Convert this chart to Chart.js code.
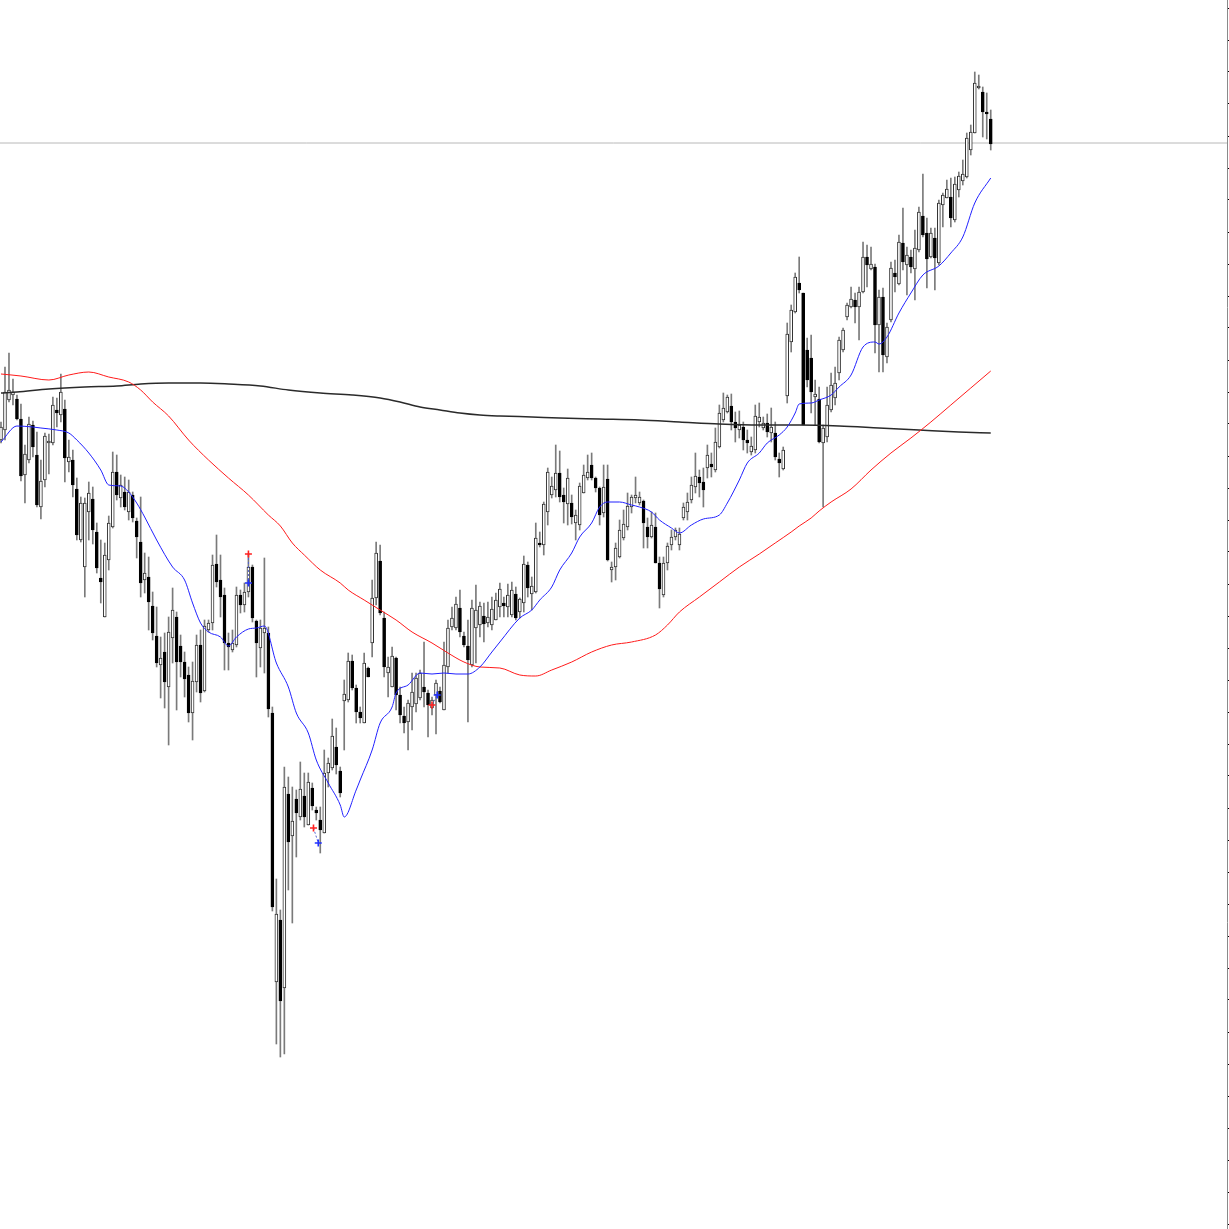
<!DOCTYPE html>
<html><head><meta charset="utf-8">
<script src="https://cdn.jsdelivr.net/npm/chart.js@4/dist/chart.umd.min.js"></script>
<style>html,body{margin:0;padding:0;background:#fff;overflow:hidden}#wrap{width:1229px;height:1229px;position:relative}</style>
</head><body><div id="wrap"><canvas id="c"></canvas></div>
<script>
const opens = [
789,799,829,834,830,810,754,769,804,774,
722,749,786,786,819,814,820,767,769,740,
689,662,717,730,697,651,612,669,702,757,
731,737,717,734,708,687,649,652,623,593,
564,577,542,591,612,583,567,554,516,547,
584,538,599,606,665,649,634,586,579,584,
634,624,637,662,608,581,596,596,516,247,
309,241,435,393,430,412,433,404,441,419,
409,396,456,461,482,458,528,529,568,541,
517,506,561,586,631,668,611,556,542,571,
534,513,507,522,525,531,542,536,521,534,
538,519,562,602,601,621,593,583,564,601,
604,613,606,604,609,622,626,622,614,635,
617,626,664,635,637,686,684,717,734,739,
756,734,725,726,706,704,736,751,764,751,
741,716,750,659,662,672,691,702,722,731,
726,728,702,692,702,666,634,666,684,692,
684,711,717,729,742,752,747,761,765,759,
782,809,817,823,807,799,802,789,777,779,
807,801,806,796,796,770,760,833,887,917,
946,936,879,871,832,830,786,792,819,831,
856,879,912,922,929,922,937,972,960,962,
904,932,872,909,956,945,986,964,972,960,
979,1013,996,972,991,966,1024,1031,1032,1009,
1039,1048,1052,1079,1096,1141,1137,1117,1110];
const highs = [
807,862,876,850,834,825,784,812,808,797,
769,796,795,832,831,855,829,789,779,751,
732,731,747,742,706,689,686,713,777,774,
754,752,749,737,711,732,676,672,637,622,
592,596,612,641,617,594,577,562,567,594,
599,609,609,674,694,674,641,596,599,642,
639,646,675,664,609,609,671,602,522,350,
319,462,452,442,439,467,456,456,446,422,
422,479,471,510,501,462,549,576,574,544,
522,576,562,649,687,684,617,572,582,572,
542,522,529,556,556,559,587,539,532,549,
542,587,609,622,632,639,597,609,629,644,
627,626,627,632,636,646,632,645,647,642,
631,673,667,652,706,697,727,761,752,784,
778,741,760,734,719,746,764,774,776,752,
742,764,764,667,686,709,719,736,734,752,
737,729,711,717,716,672,672,686,699,701,
701,726,736,752,776,759,761,784,776,801,
824,836,834,835,817,818,807,799,792,824,
826,812,815,821,807,776,782,906,924,956,
972,936,891,894,849,842,804,842,856,862,
892,901,926,942,936,942,987,984,982,965,
939,941,906,967,969,994,1021,982,979,999,
1022,1055,1011,1001,1001,1029,1036,1049,1051,1052,
1057,1069,1096,1104,1157,1154,1142,1136,1119];
const lows = [
786,789,827,824,809,748,726,766,772,722,
710,742,755,784,802,807,747,757,732,689,
687,632,689,685,656,626,612,659,701,729,
722,719,709,707,671,632,636,599,589,562,
531,521,484,566,519,552,532,507,489,537,
527,537,597,599,642,612,559,559,577,582,
616,617,632,607,552,562,556,512,318,185,
172,175,339,306,372,409,402,404,419,409,
376,396,442,459,455,432,479,527,539,506,
506,506,552,572,624,614,552,532,542,519,
506,496,479,499,517,529,522,492,514,495,
526,519,556,599,599,592,582,507,562,566,
592,587,602,599,609,612,612,612,612,609,
611,617,632,619,636,682,674,704,731,732,
727,706,704,705,689,699,736,749,749,737,
704,712,668,647,649,671,689,699,716,726,
724,681,681,691,666,621,632,659,679,689,
679,709,709,726,736,732,722,751,752,757,
781,807,816,799,787,791,779,776,774,776,
802,799,792,787,769,752,759,826,877,916,
936,804,842,816,804,786,722,787,817,824,
849,877,909,921,906,889,936,942,959,876,
857,857,866,907,937,944,959,934,956,929,
977,992,941,971,939,964,1002,1031,1002,1007,
1032,1044,1051,1074,1096,1140,1092,1090,1079];
const closes = [
802,837,839,837,810,753,775,805,782,724,
748,793,788,824,816,837,771,772,744,694,
726,726,736,699,661,647,674,706,757,734,
744,722,737,711,692,646,656,627,596,566,
571,547,597,619,567,567,550,516,548,584,
536,603,606,664,647,632,586,582,586,634,
624,637,662,611,586,601,601,520,322,315,
228,442,387,408,416,440,412,447,423,416,
399,456,466,493,464,436,535,568,541,517,
511,566,552,631,676,616,562,562,573,534,
514,506,526,537,551,556,537,524,529,546,
527,564,601,611,625,597,584,569,621,619,
623,605,612,620,629,640,623,634,639,611,
630,665,641,643,691,684,725,757,743,756,
732,727,751,712,714,743,754,757,751,741,
714,742,669,662,681,699,705,723,732,734,
732,706,692,704,666,640,666,683,692,699,
695,722,727,744,753,746,739,774,762,787,
816,821,832,807,801,804,789,786,783,813,
812,806,797,802,772,766,779,895,919,952,
939,804,849,837,835,787,801,824,844,846,
889,899,924,930,922,937,972,964,965,904,
932,874,902,961,952,987,967,974,962,981,
1017,994,970,996,971,1026,1034,1040,1011,1045,
1053,1055,1091,1097,1146,1143,1117,1115,1085];

// moving averages (bar index, value)
const blueIdx = [0,4,8,10,14,17,19,22,25,27,30,32,34,36,39,43,46,48,50,52,55,57,59,62,64,66,69,72,74,77,79,82,85,86,89,90,93,95,98,99,102,105,108,111,114,117,120,123,125,130,133,135,138,140,143,145,148,150,152,155,158,160,163,165,168,170,173,176,180,182,185,187,190,192,195,197,199,200,203,205,208,210,213,216,219,220,222,225,228,231,235,238,241,244,248];
const blueVal = [787,803,802,801,799,796,789,776,759,744,743,737,726,712,689,662,649,626,606,597,592,583,592,600,601,603,566,542,516,496,469,446,424,412,439,449,479,506,522,536,544,556,555,556,555,555,562,577,587,611,619,629,642,659,676,692,706,722,727,727,724,722,717,709,701,696,704,710,714,726,749,766,776,786,794,802,816,825,826,829,834,842,854,882,887,885,892,916,936,954,963,976,992,1026,1051];
const redIdx = [0,5,12,17,22,27,32,35,38,42,47,52,57,62,67,70,73,76,80,85,87,91,95,99,103,108,112,116,120,125,130,134,138,143,148,153,158,164,167,170,175,180,185,190,194,198,200,203,205,208,213,218,223,228,233,238,243,248];
const redVal = [855,853,849,854,857,852,847,839,827,813,789,769,751,734,714,703,686,674,659,646,639,629,619,609,597,586,576,567,562,561,554,553,559,567,577,584,587,594,604,617,632,647,662,675,686,697,703,711,718,727,740,759,776,791,807,824,841,858];
const blackIdx = [0,4,12,21,29,35,42,50,57,65,72,80,88,95,100,105,110,115,120,125,133,140,150,160,170,180,190,200,210,220,230,240,248];
const blackVal = [836,837,840,842,843,845,846,846,845,843,839,836,834,831,827,822,819,816,814,813,812,811,810,809,807,805,804,804,803,801,799,797,796];

// current price line and trade markers
const priceLine = 1086;
const tradeOpenIdx = [62, 78.3, 108];
const tradeOpenVal = [675, 401, 524];
const tradeCloseIdx = [62, 79.5, 109.3];
const tradeCloseVal = [646, 386, 534];

// price axis tick values (labels are outside the picture)
const yTicks = [5,37,69,101,133,165,197,229,261,293,325,357,389,421,453,485,517,549,581,613,645,677,709,741,773,805,837,869,901,933,965,997,1029,1061,1093,1125,1157,1189,1221];

const xMin = -0.25, xMax = 307.2;

const pts = (ix, vals) => ix.map((x, i) => ({x: x, y: vals[i]}));
const tradeLines = [];
tradeOpenIdx.forEach((x, i) => {
  tradeLines.push({x: x, y: tradeOpenVal[i]});
  tradeLines.push({x: tradeCloseIdx[i], y: tradeCloseVal[i]});
  tradeLines.push({x: tradeCloseIdx[i] + 0.01, y: null});
});

const isUp = i => closes[i] >= opens[i];

new Chart(document.getElementById('c'), {
  type: 'bar',
  data: {
    datasets: [
      {type:'line', data: pts(tradeOpenIdx, tradeOpenVal), showLine:false, pointStyle:'cross', pointRadius:3.5, borderColor:'#ff2020', borderWidth:1.6},
      {type:'line', data: pts(tradeCloseIdx, tradeCloseVal), showLine:false, pointStyle:'cross', pointRadius:3.5, borderColor:'#2030ff', borderWidth:1.6},
      {type:'line', data: tradeLines, borderColor:'#5060d0', borderWidth:1, borderDash:[2,2], pointRadius:0, spanGaps:false},
      {type:'line', data: pts(blueIdx, blueVal), borderColor:'#2020ff', borderWidth:1, pointRadius:0, cubicInterpolationMode:'monotone'},
      {type:'line', data: pts(redIdx, redVal), borderColor:'#ff1a1a', borderWidth:1, pointRadius:0, cubicInterpolationMode:'monotone'},
      {type:'line', data: pts(blackIdx, blackVal), borderColor:'#2a2a2a', borderWidth:1.5, pointRadius:0, cubicInterpolationMode:'monotone'},
      {type:'bar', data: opens.map((o, i) => ({x: i, y: [o, closes[i]]})), grouped:false, barThickness:3,
        backgroundColor: c => isUp(c.dataIndex) ? '#ffffff' : '#000000',
        borderColor: c => isUp(c.dataIndex) ? '#303030' : '#000000',
        borderWidth:1, borderSkipped:false},
      {type:'bar', data: lows.map((l, i) => ({x: i, y: [l, highs[i]]})), grouped:false, barThickness:1,
        backgroundColor:'#7a7a7a', borderWidth:0},
      {type:'line', data: [{x:xMin, y:priceLine}, {x:xMax, y:priceLine}], borderColor:'#b8b8b8', borderWidth:1, pointRadius:0}
    ]
  },
  options: {
    responsive: true, maintainAspectRatio: false, animation: false,
    layout: {padding: 0, autoPadding: false},
    plugins: {legend:{display:false}, tooltip:{enabled:false}},
    scales: {
      x: {type:'linear', min:xMin, max:xMax, offset:false, display:false},
      y: {type:'linear', position:'right', min:0, max:1229,
        afterBuildTicks: s => { s.ticks = yTicks.map(v => ({value:v})); },
        ticks:{display:false},
        grid:{drawOnChartArea:false, drawTicks:true, tickLength:2, color:'#000', lineWidth:1},
        border:{display:true, color:'#8a8a8a', width:1}
      }
    }
  }
});
</script></body></html>
